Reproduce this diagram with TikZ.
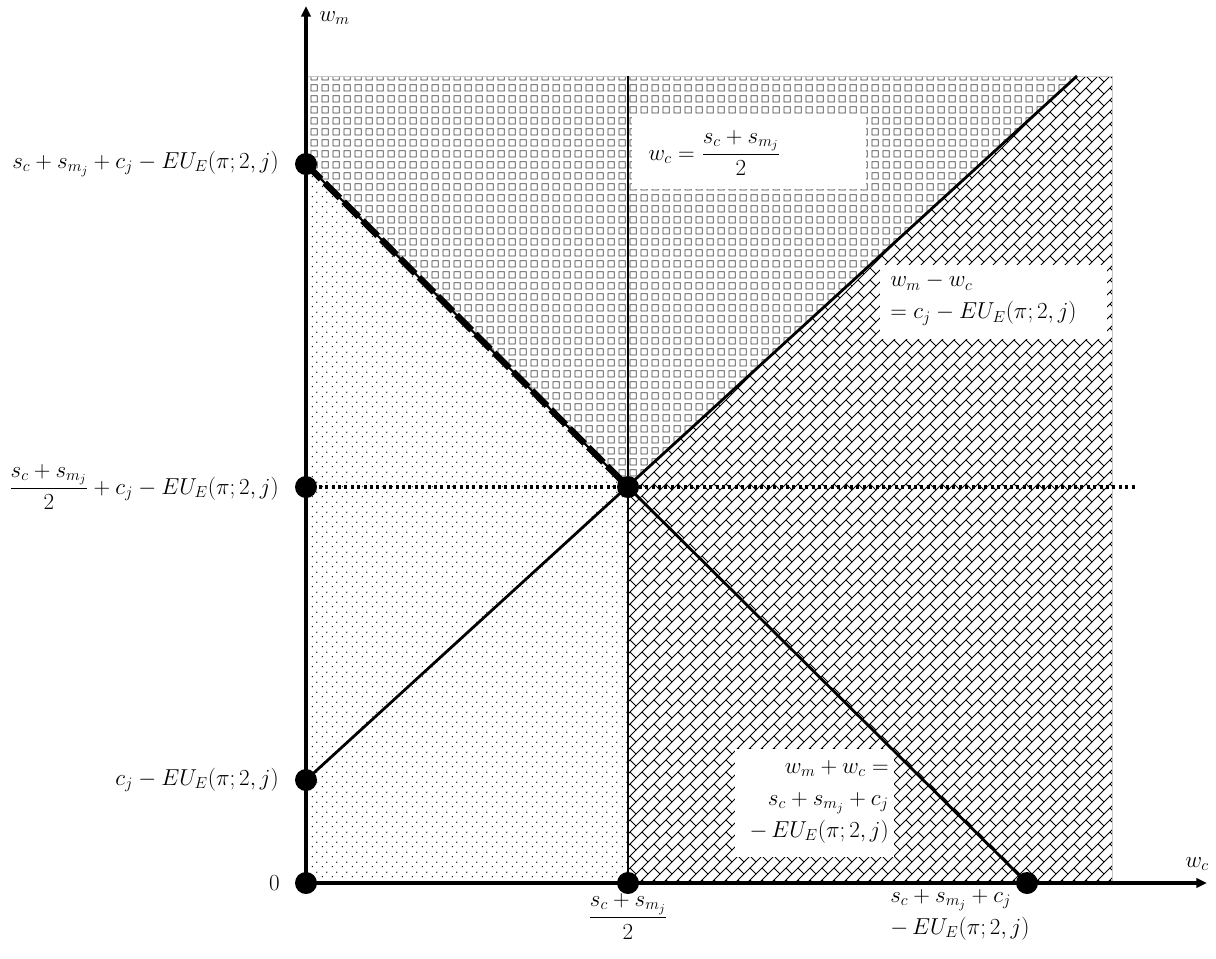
\documentclass[tikz,border=0pt]{standalone}
\usepackage{amsmath}
\usetikzlibrary{patterns.meta,arrows.meta}
\tikzdeclarepattern{
  name=pdots, type=uncolored,
  bottom left={(0pt,0pt)}, top right={(7.5pt,7.5pt)},
  tile size={(7.5pt,7.5pt)},
  code={
    \fill (1.875pt,1.875pt) circle (0.6pt);
    \fill (5.625pt,5.625pt) circle (0.6pt);
  }
}
\tikzdeclarepattern{
  name=pgrid, type=uncolored,
  bottom left={(0pt,0pt)}, top right={(8pt,8pt)},
  tile size={(8pt,8pt)},
  code={
    \draw[line width=0.5pt] (1.6pt,1.6pt) rectangle (6.4pt,6.4pt);
  }
}
\tikzdeclarepattern{
  name=pbrick, type=uncolored,
  bottom left={(-0.3pt,-0.3pt)}, top right={(9.3pt,9.3pt)},
  tile size={(9pt,9pt)},
  code={
    \draw[line width=0.6pt] (0pt,0pt) -- (9pt,9pt);
    \draw[line width=0.6pt] (4.5pt,4.5pt) -- (9pt,0pt);
  }
}
\begin{document}
\begin{tikzpicture}[x=0.75pt,y=-0.75pt,
  every node/.style={font=\fontsize{17.5}{24}\selectfont, inner sep=0pt},
  axis/.style={line width=2.4pt},
  ln/.style={line width=2.1pt},
  dot/.style={circle,fill=black,minimum size=16.5pt,inner sep=0pt},
  tip/.style={-{Triangle[length=8pt,width=7pt]}}]
\useasboundingbox (0,0) rectangle (1216,958);
% key points
\coordinate (O) at (306,883);
\coordinate (A) at (306,164);
\coordinate (B) at (628,487);
\coordinate (C) at (306,780);
\coordinate (D) at (628,883);
\coordinate (E) at (1027,883);
\coordinate (F) at (306,487);
\coordinate (T) at (1077,76);
\coordinate (V) at (628,76);
\coordinate (TL) at (306,76);
\coordinate (TR) at (1112,76);
\coordinate (BR) at (1112,883);
\coordinate (H) at (1135,487);
\coordinate (Yend) at (306,6);
\coordinate (Xend) at (1207,883);
% shaded regions
\fill[pattern=pdots] (O) -- (D) -- (B) -- (A) -- cycle;
\fill[pattern=pgrid, pattern color=black!75] (A) -- (TL) -- (T) -- (B) -- cycle;
\fill[pattern=pbrick] (B) -- (T) -- (TR) -- (BR) -- (D) -- cycle;
\draw[gray!45, line width=0.5pt] (TL) -- (TR) -- (BR);
% white label boxes
\fill[white] (632,117) rectangle (866,189);
\fill[white] (880,265) rectangle (1107,339);
\fill[white] (735,749) rectangle (894,857);
% lines
\draw[ln] (V) -- (D);
\draw[ln] (C) -- (T);
\draw[ln] (B) -- (E);
\draw[line width=1.6pt] (A) -- (B);
\draw[line width=4.8pt, dash pattern=on 16pt off 4pt] (A) -- (B);
\draw[line width=2.3pt, dash pattern=on 2.3pt off 2.5pt] (F) -- (H);
% axes
\draw[axis,tip] (O) -- (Yend);
\draw[axis,tip] (O) -- (Xend);
% dots
\foreach \p in {O,A,B,C,D,E,F} \node[dot] (d\p) at (\p) {};
% axis labels
\node[anchor=base west] (lwm) at (319,21) {$w_m$};
\node[anchor=base west] (lwc) at (1185,867) {$w_c$};
% tick labels
\node[anchor=east] (l0) at (280,883) {$0$};
\node[anchor=east] (lA) at (279,164) {$s_c + s_{m_j} + c_j - EU_E(\pi;2,j)$};
\node[anchor=east] (lF) at (279,487) {$\dfrac{s_c+s_{m_j}}{2} + c_j - EU_E(\pi;2,j)$};
\node[anchor=east] (lC) at (279,780) {$c_j - EU_E(\pi;2,j)$};
\node[anchor=north] (lD) at (628,893) {$\dfrac{s_c+s_{m_j}}{2}$};
\node[anchor=north west, align=left] (lE) at (890,889) {$s_c+s_{m_j}+c_j$\\$-\,EU_E(\pi;2,j)$};
% boxed labels
\node[anchor=west] (b1) at (648,153) {$w_c = \dfrac{s_c+s_{m_j}}{2}$};
\node[anchor=north west, align=left] (b2) at (890,273) {$w_m - w_c$\\$= c_j - EU_E(\pi;2,j)$};
\node[anchor=north east, align=right] (b3) at (889,760) {$w_m+w_c=$\\$s_c+s_{m_j}+c_j$\\$-\,EU_E(\pi;2,j)$};
\end{tikzpicture}
\end{document}
